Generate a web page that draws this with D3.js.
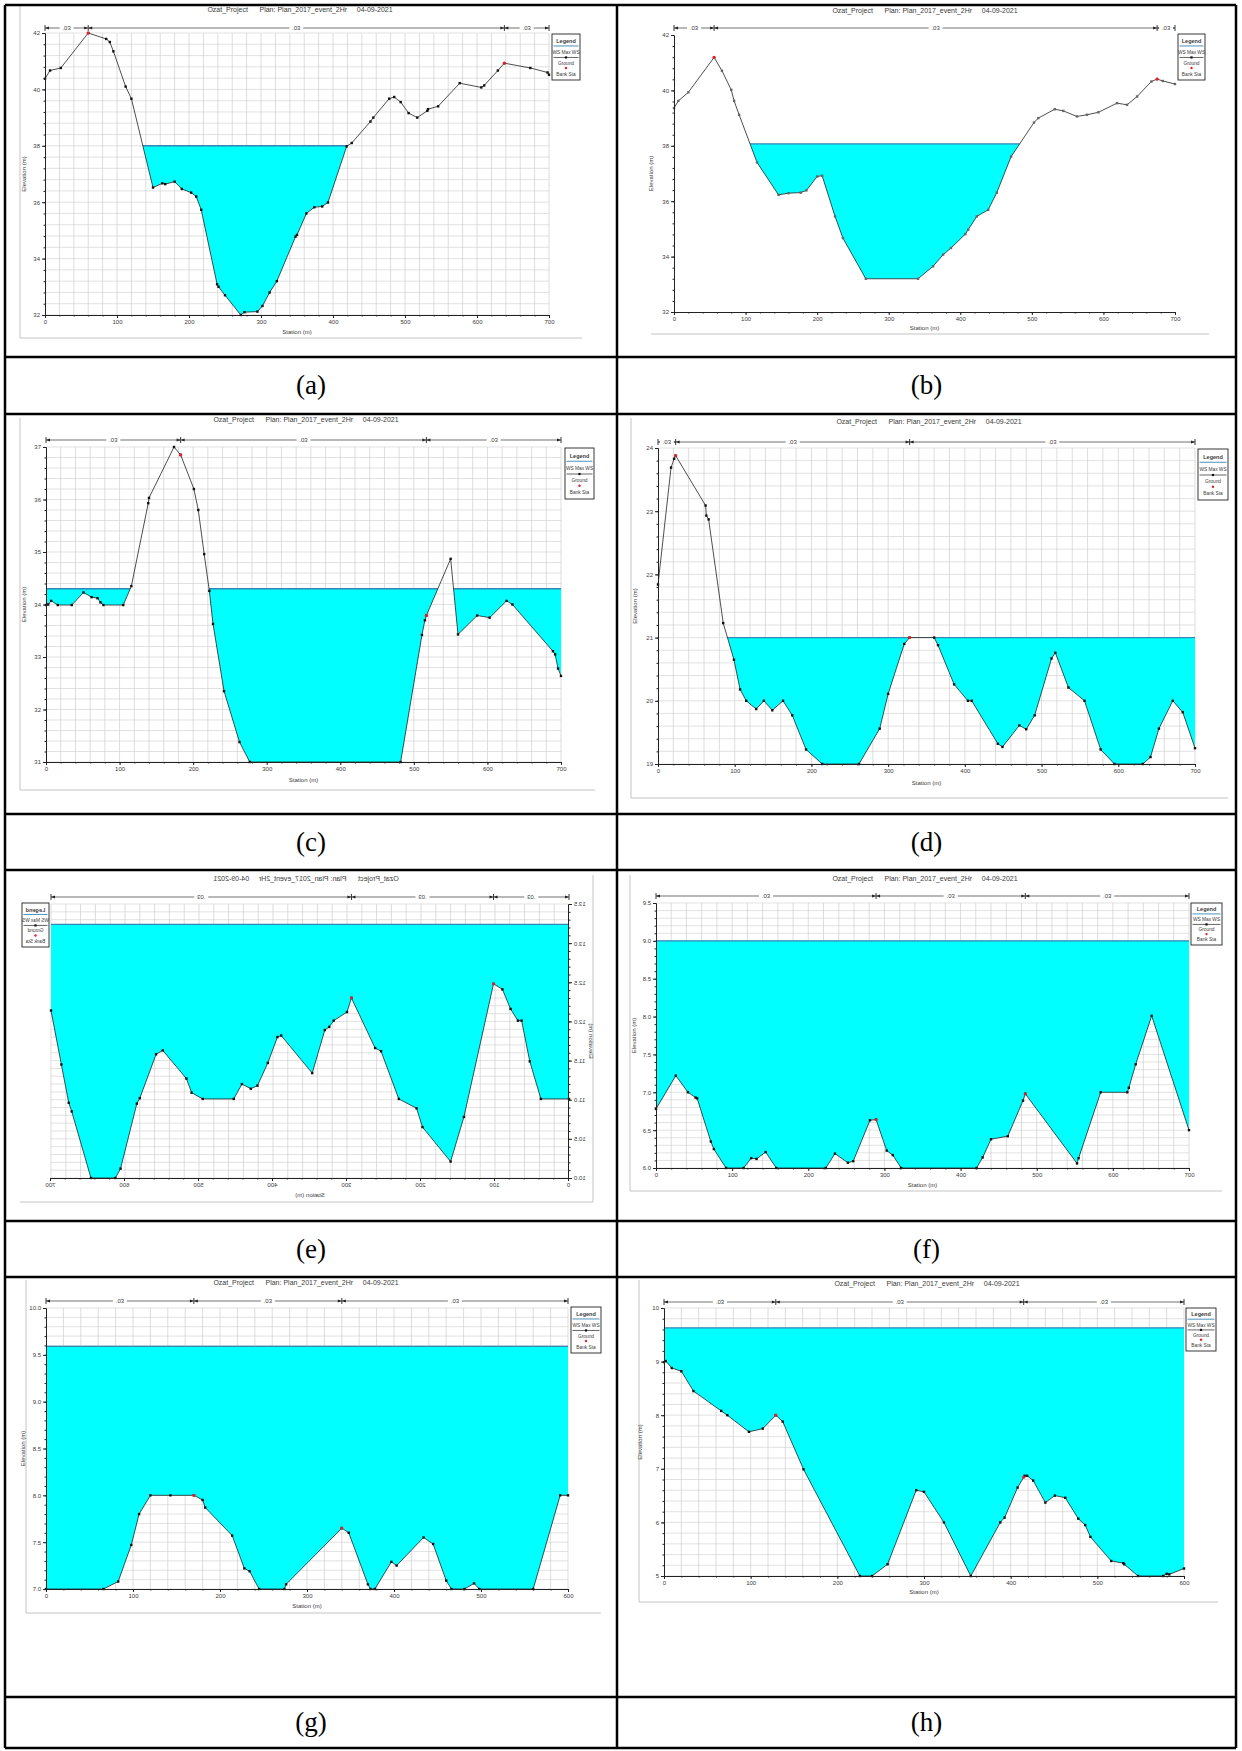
<!DOCTYPE html>
<html>
<head>
<meta charset="utf-8">
<title>Ozat cross sections</title>
<script src="https://d3js.org/d3.v7.min.js"></script>
<style>
    body { margin: 0; background: #fff; }
    svg text { font-family: "Liberation Sans", Arial, sans-serif; fill: #3a3a3a; }
    .cap { font-family: "Liberation Serif", "Times New Roman", serif; font-size: 27px; fill: #000; }
    .title { white-space: pre; }
</style>
</head>
<body>
<svg id="fig" width="1242" height="1751"></svg>
<script>
// ground profiles [station (m), elevation (m)]
var groundA = [[0,40.38],[7,40.67],[22,40.76],[60,42.0],[85,41.79],[90,41.68],[95,41.35],[112,40.1],[120,39.67],[150,36.52],[163,36.67],[167,36.64],[180,36.73],[190,36.47],[203,36.34],[210,36.2],[217,35.73],[239,33.09],[241,33.0],[250,32.7],[272,32.0],[277,32.1],[295,32.12],[302,32.32],[312,32.8],[322,33.2],[348,34.78],[350,34.84],[363,35.6],[374,35.82],[385,35.85],[393,35.99],[419,37.98],[426,38.1],[452,38.86],[456,39.0],[478,39.67],[485,39.73],[494,39.55],[505,39.16],[517,39.0],[531,39.24],[532,39.3],[546,39.4],[576,40.22],[606,40.07],[610,40.14],[629,40.67],[638,40.93],[674,40.76],[698,40.6],[700,40.52]];
var groundB = [[0,39.36],[6,39.62],[20,39.93],[56,41.19],[67,40.71],[80,40.02],[84,39.62],[91,39.12],[116,37.4],[146,36.23],[160,36.29],[177,36.31],[185,36.39],[200,36.89],[207,36.92],[225,35.45],[236,34.67],[268,33.2],[341,33.2],[362,33.65],[376,34.07],[387,34.31],[407,34.81],[411,34.97],[423,35.45],[439,35.69],[451,36.31],[471,37.61],[503,38.84],[509,39.0],[532,39.32],[544,39.26],[563,39.06],[577,39.12],[593,39.21],[619,39.54],[633,39.48],[647,39.78],[667,40.32],[675,40.41],[683,40.34],[700,40.23]];
var groundC = [[0,33.99],[3,34.0],[7,34.07],[16,33.99],[35,33.99],[51,34.23],[62,34.14],[70,34.12],[74,34.04],[78,33.99],[105,33.99],[116,34.35],[139,35.93],[140,36.03],[174,37.0],[183,36.85],[201,36.2],[207,35.8],[215,34.96],[222,34.26],[227,33.63],[242,32.35],[263,31.38],[277,31.0],[482,31.0],[511,33.42],[515,33.7],[517,33.79],[550,34.87],[560,33.43],[586,33.79],[603,33.75],[626,34.07],[634,34.0],[689,33.11],[692,33.05],[696,32.78],[700,32.64]];
var groundD = [[0,21.84],[17,23.69],[21,23.83],[23,23.88],[62,23.09],[63,22.93],[66,22.87],[85,21.23],[99,20.65],[107,20.18],[115,20.0],[128,19.87],[138,20.0],[149,19.85],[163,20.0],[175,19.77],[193,19.23],[214,19.0],[262,19.0],[289,19.56],[300,20.11],[321,20.9],[328,21.0],[360,21.0],[365,20.88],[386,20.26],[404,20.0],[409,20.0],[443,19.32],[449,19.27],[471,19.61],[480,19.55],[491,19.77],[513,20.67],[518,20.76],[535,20.21],[556,20.0],[577,19.23],[595,19.0],[632,19.0],[642,19.11],[653,19.56],[671,20.0],[684,19.82],[700,19.25]];
var groundE = [[0,11.01],[38,11.01],[53,11.49],[64,12.01],[69,12.01],[79,12.16],[90,12.41],[102,12.48],[142,10.78],[160,10.21],[198,10.65],[206,10.89],[230,11.01],[254,11.62],[262,11.66],[294,12.3],[300,12.12],[318,12.01],[324,11.93],[330,11.89],[347,11.34],[389,11.82],[394,11.8],[407,11.47],[421,11.18],[430,11.14],[442,11.2],[453,11.01],[495,11.01],[510,11.09],[517,11.27],[549,11.63],[558,11.58],[580,11.02],[584,10.95],[606,10.12],[613,10.0],[646,10.0],[672,10.85],[676,10.96],[686,11.45],[700,12.14]];
var groundF = [[0,6.78],[26,7.22],[42,7.0],[52,6.93],[54,6.92],[72,6.35],[76,6.25],[92,6.0],[115,6.0],[125,6.13],[132,6.12],[144,6.21],[158,6.0],[223,6.0],[235,6.19],[252,6.07],[259,6.09],[281,6.63],[289,6.64],[303,6.23],[311,6.17],[322,6.0],[421,6.0],[429,6.14],[440,6.38],[462,6.42],[482,6.89],[485,6.98],[553,6.06],[555,6.13],[584,7.0],[619,7.0],[621,7.06],[630,7.37],[651,8.01],[700,6.5]];
var groundG = [[0,7.0],[66,7.0],[83,7.08],[98,7.47],[107,7.8],[120,8.0],[143,8.0],[170,8.0],[180,7.95],[183,7.87],[214,7.57],[228,7.22],[234,7.19],[245,7.0],[274,7.0],[276,7.05],[340,7.65],[348,7.6],[370,7.05],[373,7.0],[378,7.0],[397,7.29],[403,7.25],[434,7.55],[445,7.48],[460,7.09],[466,7.0],[481,7.0],[492,7.06],[498,7.0],[560,7.0],[591,8.0],[600,8.0]];
var groundH = [[0,8.99],[2,9.01],[9,8.88],[20,8.82],[34,8.45],[66,8.08],[73,8.0],[98,7.69],[114,7.75],[129,8.0],[137,7.88],[161,6.99],[226,5.0],[240,5.0],[258,5.22],[291,6.6],[300,6.57],[323,6.0],[354,5.0],[388,6.0],[393,6.09],[408,6.65],[416,6.87],[419,6.87],[426,6.78],[440,6.37],[451,6.5],[463,6.46],[478,6.07],[486,5.95],[492,5.73],[516,5.28],[530,5.24],[531,5.22],[547,5.0],[576,5.0],[580,5.04],[583,5.03],[600,5.14]];

// max water surface per section
var wsLevels = [38.0, 38.07, 34.3, 21.0, 13.24, 9.0, 9.59, 9.63];
// bank stations
var banksA = [60, 638], banksB = [56, 675], banksC = [183, 517], banksD = [23, 328];
var banksE = [102, 294], banksF = [289, 485], banksG = [170, 340], banksH = [129, 415];
// elevation tick labels
var ticksA = [32, 34, 36, 38, 40, 42];
var ticksC = [31, 32, 33, 34, 35, 36, 37];
var ticksD = [19, 20, 21, 22, 23, 24];
var ticksE = [10, 10.5, 11, 11.5, 12, 12.5, 13, 13.5];
var ticksF = [6, 6.5, 7, 7.5, 8, 8.5, 9, 9.5];
var ticksG = [7, 7.5, 8, 8.5, 9, 9.5, 10];
var ticksH = [5, 6, 7, 8, 9, 10];
var captions = ["(a)", "(b)", "(c)", "(d)", "(e)", "(f)", "(g)", "(h)"];
var titleText = "Ozat_Project      Plan: Plan_2017_event_2Hr     04-09-2021";
var nValue = ".03";

var svg = d3.select("#fig");

function elevAt(ground, st) {
    for (var i = 1; i < ground.length; i++) {
        if (st <= ground[i][0]) {
            var a = ground[i - 1], b = ground[i];
            return a[1] + (b[1] - a[1]) * (st - a[0]) / (b[0] - a[0]);
        }
    }
    return ground[ground.length - 1][1];
}

function drawPanel(p) {
    var outer = svg.append("g");
    var g = p.mirror ? outer.append("g").attr("transform", "translate(" + p.mirror + ",0) scale(-1,1)") : outer;
    var x = d3.scaleLinear().domain([0, p.xMax]).range([p.L, p.R]);
    var y = d3.scaleLinear().domain(p.yDom).range([p.B, p.T]);
    var id = "clip" + p.name;
    var f = p.frame;

    // screenshot border
    if (f.left) {
        g.append("line").attr("x1", f.x).attr("x2", f.x).attr("y1", f.y0).attr("y2", f.b)
            .attr("stroke", "#c4c4c4").attr("stroke-width", 1);
    }
    g.append("line").attr("x1", f.x).attr("x2", f.r).attr("y1", f.b).attr("y2", f.b)
        .attr("stroke", "#c4c4c4").attr("stroke-width", 1);

    // grid
    var nMinor = Math.round((p.yDom[1] - p.yDom[0]) / p.minor);
    var minorY = d3.range(nMinor + 1).map(function (i) { return p.yDom[0] + i * p.minor; });
    if (p.grid) {
        g.append("g").selectAll("line").data(minorY).join("line")
            .attr("x1", p.L).attr("x2", p.R)
            .attr("y1", function (d) { return y(d); }).attr("y2", function (d) { return y(d); })
            .attr("stroke", "#d6d6d6").attr("stroke-width", 0.7);
        g.append("g").selectAll("line").data(d3.range(1, p.xMax / 20 + 1).map(function (i) { return i * 20; })).join("line")
            .attr("x1", function (d) { return x(d); }).attr("x2", function (d) { return x(d); })
            .attr("y1", p.T).attr("y2", p.B)
            .attr("stroke", "#cfcfcf").attr("stroke-width", 0.7);
    }

    // water: below WS and above the ground line
    var above = d3.area().x(function (d) { return x(d[0]); }).y0(p.T - 3).y1(function (d) { return y(d[1]); });
    g.append("clipPath").attr("id", id).append("path").attr("d", above(p.ground));
    g.append("rect").attr("x", p.L).attr("width", p.R - p.L)
        .attr("y", y(p.ws)).attr("height", p.B - y(p.ws))
        .attr("fill", "#00ffff").attr("clip-path", "url(#" + id + ")");
    g.append("line").attr("x1", p.L).attr("x2", p.R).attr("y1", y(p.ws)).attr("y2", y(p.ws))
        .attr("stroke", "#3586b4").attr("stroke-width", 1.4).attr("clip-path", "url(#" + id + ")");

    // ground
    var line = d3.line().x(function (d) { return x(d[0]); }).y(function (d) { return y(d[1]); });
    g.append("path").attr("d", line(p.ground)).attr("fill", "none").attr("stroke", "#222").attr("stroke-width", 0.8);
    g.append("g").selectAll("rect").data(p.ground).join("rect")
        .attr("x", function (d) { return x(d[0]) - 1.2; }).attr("y", function (d) { return y(d[1]) - 1.2; })
        .attr("width", 2.4).attr("height", 2.4).attr("fill", p.markColor || "#111");
    g.append("g").selectAll("circle").data(p.banks).join("circle")
        .attr("cx", function (d) { return x(d); }).attr("cy", function (d) { return y(elevAt(p.ground, d)); })
        .attr("r", 1.6).attr("fill", "#e0202a");

    // axes
    var yAxis = g.append("g").attr("transform", "translate(" + p.L + ",0)")
        .call(d3.axisLeft(y).tickValues(p.ticks).tickFormat(p.fmt).tickSize(3).tickSizeOuter(0).tickPadding(2));
    g.append("g").attr("transform", "translate(" + p.L + ",0)")
        .call(d3.axisLeft(y).tickValues(minorY).tickFormat("").tickSize(1.5).tickSizeOuter(0));
    var xAxis = g.append("g").attr("transform", "translate(0," + p.B + ")")
        .call(d3.axisBottom(x).tickValues(d3.range(0, p.xMax + 1, 100)).tickSize(3).tickSizeOuter(0).tickPadding(2));
    g.append("g").attr("transform", "translate(0," + p.B + ")")
        .call(d3.axisBottom(x).tickValues(d3.range(0, p.xMax + 1, 20)).tickFormat("").tickSize(1.5).tickSizeOuter(0));
    g.selectAll(".domain").attr("stroke", "#222").attr("stroke-width", 1);
    g.selectAll(".tick line").attr("stroke", "#222");
    yAxis.attr("font-size", 6).attr("font-family", null);
    xAxis.attr("font-size", 6).attr("font-family", null);

    g.append("text").attr("x", (p.L + p.R) / 2).attr("y", p.stY).attr("text-anchor", "middle")
        .attr("font-size", 6).text("Station (m)");
    g.append("text").attr("transform", "translate(" + p.ylabX + "," + ((p.T + p.B) / 2) + ") rotate(-90)")
        .attr("text-anchor", "middle").attr("font-size", 6).text("Elevation (m)");
    g.append("text").attr("class", "title").attr("x", p.titleX).attr("y", p.titleY)
        .attr("text-anchor", "middle").attr("font-size", 7).text(titleText);

    // roughness band
    var bounds = [0].concat(p.banks).concat([p.xMax]);
    var band = g.append("g");
    band.append("line").attr("x1", x(0)).attr("x2", x(p.xMax)).attr("y1", p.bandY).attr("y2", p.bandY)
        .attr("stroke", "#333").attr("stroke-width", 0.7);
    bounds.forEach(function (b) {
        band.append("line").attr("x1", x(b)).attr("x2", x(b)).attr("y1", p.bandY - 3).attr("y2", p.bandY + 3)
            .attr("stroke", "#222").attr("stroke-width", 0.9);
    });
    for (var i = 0; i < bounds.length - 1; i++) {
        var a = x(bounds[i]), c = x(bounds[i + 1]), yb = p.bandY;
        band.append("path").attr("d", "M" + a + "," + yb + "L" + (a + 4) + "," + (yb - 1.6) + "L" + (a + 4) + "," + (yb + 1.6) + "Z").attr("fill", "#222");
        band.append("path").attr("d", "M" + c + "," + yb + "L" + (c - 4) + "," + (yb - 1.6) + "L" + (c - 4) + "," + (yb + 1.6) + "Z").attr("fill", "#222");
        band.append("rect").attr("x", (a + c) / 2 - 7).attr("y", yb - 3).attr("width", 14).attr("height", 6).attr("fill", "#fff");
        band.append("text").attr("x", (a + c) / 2).attr("y", yb + 2).attr("text-anchor", "middle")
            .attr("font-size", 6).text(nValue);
    }

    // legend
    var lx = p.leg[0], ly = p.leg[1], lw = p.leg[2], lh = p.leg[3];
    var lg = g.append("g");
    lg.append("rect").attr("x", lx).attr("y", ly).attr("width", lw).attr("height", lh)
        .attr("fill", "#fff").attr("stroke", "#222").attr("stroke-width", 0.9);
    lg.append("text").attr("x", lx + lw / 2).attr("y", ly + 0.15 * lh).attr("dy", "0.35em")
        .attr("text-anchor", "middle").attr("font-size", 5.5).attr("font-weight", "bold").text("Legend");
    lg.append("line").attr("x1", lx + 1.5).attr("x2", lx + lw - 1.5).attr("y1", ly + 0.26 * lh).attr("y2", ly + 0.26 * lh)
        .attr("stroke", "#3586b4").attr("stroke-width", 0.9);
    lg.append("text").attr("x", lx + lw / 2).attr("y", ly + 0.4 * lh).attr("dy", "0.35em")
        .attr("text-anchor", "middle").attr("font-size", 4.8).text("WS Max WS");
    lg.append("line").attr("x1", lx + 1.5).attr("x2", lx + lw - 1.5).attr("y1", ly + 0.51 * lh).attr("y2", ly + 0.51 * lh)
        .attr("stroke", "#222").attr("stroke-width", 0.7);
    lg.append("rect").attr("x", lx + lw / 2 - 1.1).attr("y", ly + 0.51 * lh - 1.1).attr("width", 2.2).attr("height", 2.2).attr("fill", "#111");
    lg.append("text").attr("x", lx + lw / 2).attr("y", ly + 0.63 * lh).attr("dy", "0.35em")
        .attr("text-anchor", "middle").attr("font-size", 4.8).text("Ground");
    lg.append("circle").attr("cx", lx + lw / 2).attr("cy", ly + 0.74 * lh).attr("r", 1.2).attr("fill", "#e0202a");
    lg.append("text").attr("x", lx + lw / 2).attr("y", ly + 0.87 * lh).attr("dy", "0.35em")
        .attr("text-anchor", "middle").attr("font-size", 4.8).text("Bank Sta");
}

var fmtInt = d3.format("d"), fmt1 = d3.format(".1f");

var panels = [
    { name: "a", ground: groundA, ws: wsLevels[0], banks: banksA, xMax: 700, yDom: [32, 42], ticks: ticksA, fmt: fmtInt, minor: 0.4, grid: true,
      L: 45, R: 549, T: 33, B: 315, titleX: 300, titleY: 12, bandY: 28, leg: [552, 34, 28, 46],
      frame: { left: true, x: 20, y0: 5, b: 338, r: 582 }, stY: 334, ylabX: 26 },
    { name: "b", ground: groundB, ws: wsLevels[1], banks: banksB, xMax: 700, yDom: [32, 42], ticks: ticksA, fmt: fmtInt, minor: 0.4, grid: false,
      L: 674, R: 1175, T: 35, B: 312, titleX: 925, titleY: 13, bandY: 28, leg: [1178, 34, 27, 46],
      frame: { left: false, x: 651, y0: 5, b: 334, r: 1209 }, stY: 330, ylabX: 653, markColor: "#666" },
    { name: "c", ground: groundC, ws: wsLevels[2], banks: banksC, xMax: 700, yDom: [31, 37], ticks: ticksC, fmt: fmtInt, minor: 0.2, grid: true,
      L: 46, R: 561, T: 447, B: 762, titleX: 306, titleY: 422, bandY: 440, leg: [565, 448, 29, 51],
      frame: { left: true, x: 20, y0: 418, b: 790, r: 595 }, stY: 782, ylabX: 26 },
    { name: "d", ground: groundD, ws: wsLevels[3], banks: banksD, xMax: 700, yDom: [19, 24], ticks: ticksD, fmt: fmtInt, minor: 0.2, grid: true,
      L: 658, R: 1195, T: 448, B: 764, titleX: 929, titleY: 424, bandY: 442, leg: [1198, 449, 30, 51],
      frame: { left: true, x: 631, y0: 418, b: 798, r: 1228 }, stY: 785, ylabX: 637 },
    { name: "e", ground: groundE, ws: wsLevels[4], banks: banksE, xMax: 700, yDom: [10, 13.5], ticks: ticksE, fmt: fmt1, minor: 0.1, grid: true,
      L: 51, R: 569, T: 904, B: 1178, titleX: 314, titleY: 881, bandY: 897, leg: [571, 903, 27, 44],
      frame: { left: true, x: 27, y0: 875, b: 1202, r: 600 }, stY: 1197, ylabX: 31, mirror: 620 },
    { name: "f", ground: groundF, ws: wsLevels[5], banks: banksF, xMax: 700, yDom: [6, 9.5], ticks: ticksF, fmt: fmt1, minor: 0.1, grid: true,
      L: 656, R: 1189, T: 903, B: 1168, titleX: 925, titleY: 881, bandY: 896, leg: [1191, 903, 31, 42],
      frame: { left: true, x: 630, y0: 875, b: 1191, r: 1222 }, stY: 1187, ylabX: 636 },
    { name: "g", ground: groundG, ws: wsLevels[6], banks: banksG, xMax: 600, yDom: [7, 10], ticks: ticksG, fmt: fmt1, minor: 0.1, grid: true,
      L: 46, R: 568, T: 1308, B: 1589, titleX: 306, titleY: 1285, bandY: 1301, leg: [571, 1307, 30, 46],
      frame: { left: true, x: 26, y0: 1280, b: 1613, r: 601 }, stY: 1608, ylabX: 25 },
    { name: "h", ground: groundH, ws: wsLevels[7], banks: banksH, xMax: 600, yDom: [5, 10], ticks: ticksH, fmt: fmtInt, minor: 0.2, grid: true,
      L: 664, R: 1184, T: 1308, B: 1576, titleX: 927, titleY: 1286, bandY: 1302, leg: [1186, 1308, 30, 43],
      frame: { left: true, x: 639, y0: 1280, b: 1602, r: 1218 }, stY: 1594, ylabX: 642 }
];

panels.forEach(drawPanel);

// table lines and captions
var colX = [5, 617, 1236];
var rowY = [5, 357, 414, 814, 870, 1221, 1277, 1697, 1748];
var table = svg.append("g").attr("stroke", "#000").attr("stroke-width", 2.5);
colX.forEach(function (cx) {
    table.append("line").attr("x1", cx).attr("x2", cx).attr("y1", rowY[0]).attr("y2", rowY[rowY.length - 1]);
});
rowY.forEach(function (ry) {
    table.append("line").attr("x1", colX[0]).attr("x2", colX[2]).attr("y1", ry).attr("y2", ry);
});
captions.forEach(function (t, i) {
    var row = Math.floor(i / 2), col = i % 2;
    svg.append("text").attr("class", "cap")
        .attr("x", (colX[col] + colX[col + 1]) / 2)
        .attr("y", (rowY[row * 2 + 1] + rowY[row * 2 + 2]) / 2)
        .attr("dy", "0.33em").attr("text-anchor", "middle").text(t);
});
</script>
</body>
</html>
